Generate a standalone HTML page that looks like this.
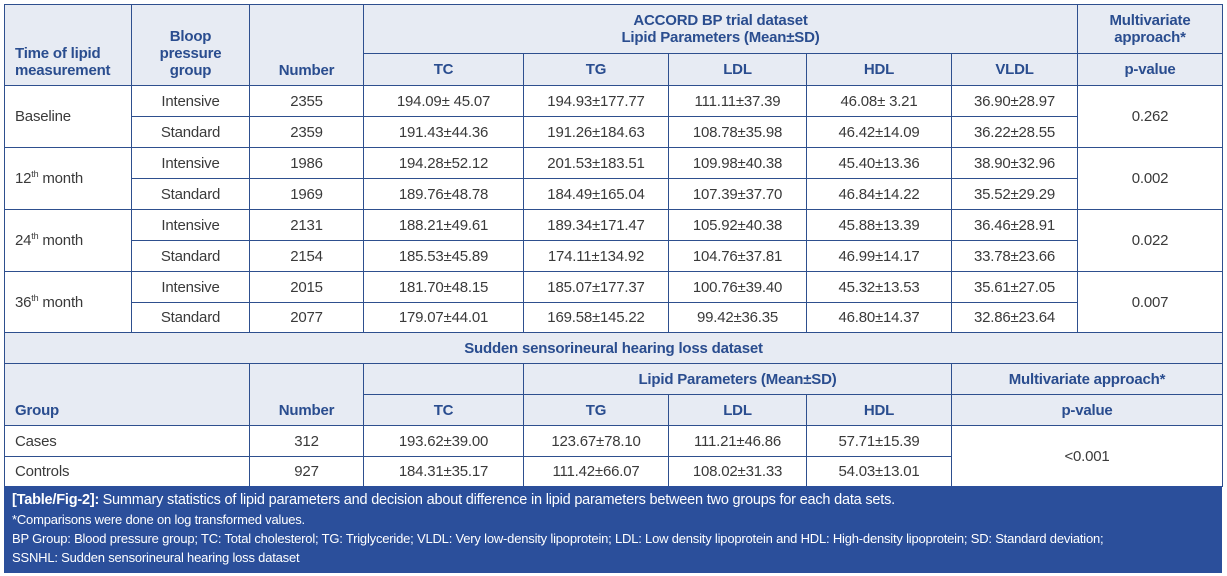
<!DOCTYPE html>
<html><head><meta charset="utf-8"><style>
body{margin:0;width:1227px;height:576px;background:#fff;position:relative;overflow:hidden;font-family:"Liberation Sans",Arial,sans-serif;}
.c{position:absolute;box-sizing:border-box;border:1px solid #2e4f8e;display:flex;align-items:center;justify-content:center;text-align:center;font-size:15px;color:#3a3a3a;line-height:17px;letter-spacing:-0.2px;}
.h{background:#e7ebf3;color:#2a4d8f;font-weight:bold;font-size:15px;}
.b{align-items:flex-end;padding-bottom:6px;}
.l{justify-content:flex-start;padding-left:10px;text-align:left;}
sup{font-size:9px;vertical-align:6px;line-height:0;}
.cap{position:absolute;left:4px;top:486px;width:1218px;height:87px;background:#2b4f9b;color:#fff;font-size:13px;padding:4px 8px;box-sizing:border-box;line-height:19px;letter-spacing:-0.2px;}
.cap b{font-size:14.5px;}
</style></head><body>
<div class="c h b l" style="left:4px;top:4px;width:128px;height:82px">Time of lipid<br>measurement</div>
<div class="c h b" style="left:131px;top:4px;width:119px;height:82px">Bloop<br>pressure<br>group</div>
<div class="c h b" style="left:249px;top:4px;width:115px;height:82px">Number</div>
<div class="c h" style="left:363px;top:4px;width:715px;height:50px">ACCORD BP trial dataset<br>Lipid Parameters (Mean±SD)</div>
<div class="c h" style="left:1077px;top:4px;width:146px;height:50px">Multivariate<br>approach*</div>
<div class="c h" style="left:363px;top:53px;width:161px;height:33px">TC</div>
<div class="c h" style="left:523px;top:53px;width:146px;height:33px">TG</div>
<div class="c h" style="left:668px;top:53px;width:139px;height:33px">LDL</div>
<div class="c h" style="left:806px;top:53px;width:146px;height:33px">HDL</div>
<div class="c h" style="left:951px;top:53px;width:127px;height:33px">VLDL</div>
<div class="c h" style="left:1077px;top:53px;width:146px;height:33px">p-value</div>

<div class="c l" style="left:4px;top:85px;width:128px;height:63px">Baseline</div>
<div class="c" style="left:1077px;top:85px;width:146px;height:63px">0.262</div>
<div class="c l" style="left:4px;top:147px;width:128px;height:63px"><span>12<sup>th</sup> month</span></div>
<div class="c" style="left:1077px;top:147px;width:146px;height:63px">0.002</div>
<div class="c l" style="left:4px;top:209px;width:128px;height:63px"><span>24<sup>th</sup> month</span></div>
<div class="c" style="left:1077px;top:209px;width:146px;height:63px">0.022</div>
<div class="c l" style="left:4px;top:271px;width:128px;height:62px"><span>36<sup>th</sup> month</span></div>
<div class="c" style="left:1077px;top:271px;width:146px;height:62px">0.007</div>

<div class="c" style="left:131px;top:85px;width:119px;height:32px">Intensive</div><div class="c" style="left:249px;top:85px;width:115px;height:32px">2355</div><div class="c" style="left:363px;top:85px;width:161px;height:32px">194.09± 45.07</div><div class="c" style="left:523px;top:85px;width:146px;height:32px">194.93±177.77</div><div class="c" style="left:668px;top:85px;width:139px;height:32px">111.11±37.39</div><div class="c" style="left:806px;top:85px;width:146px;height:32px">46.08± 3.21</div><div class="c" style="left:951px;top:85px;width:127px;height:32px">36.90±28.97</div>
<div class="c" style="left:131px;top:116px;width:119px;height:32px">Standard</div><div class="c" style="left:249px;top:116px;width:115px;height:32px">2359</div><div class="c" style="left:363px;top:116px;width:161px;height:32px">191.43±44.36</div><div class="c" style="left:523px;top:116px;width:146px;height:32px">191.26±184.63</div><div class="c" style="left:668px;top:116px;width:139px;height:32px">108.78±35.98</div><div class="c" style="left:806px;top:116px;width:146px;height:32px">46.42±14.09</div><div class="c" style="left:951px;top:116px;width:127px;height:32px">36.22±28.55</div>
<div class="c" style="left:131px;top:147px;width:119px;height:32px">Intensive</div><div class="c" style="left:249px;top:147px;width:115px;height:32px">1986</div><div class="c" style="left:363px;top:147px;width:161px;height:32px">194.28±52.12</div><div class="c" style="left:523px;top:147px;width:146px;height:32px">201.53±183.51</div><div class="c" style="left:668px;top:147px;width:139px;height:32px">109.98±40.38</div><div class="c" style="left:806px;top:147px;width:146px;height:32px">45.40±13.36</div><div class="c" style="left:951px;top:147px;width:127px;height:32px">38.90±32.96</div>
<div class="c" style="left:131px;top:178px;width:119px;height:32px">Standard</div><div class="c" style="left:249px;top:178px;width:115px;height:32px">1969</div><div class="c" style="left:363px;top:178px;width:161px;height:32px">189.76±48.78</div><div class="c" style="left:523px;top:178px;width:146px;height:32px">184.49±165.04</div><div class="c" style="left:668px;top:178px;width:139px;height:32px">107.39±37.70</div><div class="c" style="left:806px;top:178px;width:146px;height:32px">46.84±14.22</div><div class="c" style="left:951px;top:178px;width:127px;height:32px">35.52±29.29</div>
<div class="c" style="left:131px;top:209px;width:119px;height:32px">Intensive</div><div class="c" style="left:249px;top:209px;width:115px;height:32px">2131</div><div class="c" style="left:363px;top:209px;width:161px;height:32px">188.21±49.61</div><div class="c" style="left:523px;top:209px;width:146px;height:32px">189.34±171.47</div><div class="c" style="left:668px;top:209px;width:139px;height:32px">105.92±40.38</div><div class="c" style="left:806px;top:209px;width:146px;height:32px">45.88±13.39</div><div class="c" style="left:951px;top:209px;width:127px;height:32px">36.46±28.91</div>
<div class="c" style="left:131px;top:240px;width:119px;height:32px">Standard</div><div class="c" style="left:249px;top:240px;width:115px;height:32px">2154</div><div class="c" style="left:363px;top:240px;width:161px;height:32px">185.53±45.89</div><div class="c" style="left:523px;top:240px;width:146px;height:32px">174.11±134.92</div><div class="c" style="left:668px;top:240px;width:139px;height:32px">104.76±37.81</div><div class="c" style="left:806px;top:240px;width:146px;height:32px">46.99±14.17</div><div class="c" style="left:951px;top:240px;width:127px;height:32px">33.78±23.66</div>
<div class="c" style="left:131px;top:271px;width:119px;height:32px">Intensive</div><div class="c" style="left:249px;top:271px;width:115px;height:32px">2015</div><div class="c" style="left:363px;top:271px;width:161px;height:32px">181.70±48.15</div><div class="c" style="left:523px;top:271px;width:146px;height:32px">185.07±177.37</div><div class="c" style="left:668px;top:271px;width:139px;height:32px">100.76±39.40</div><div class="c" style="left:806px;top:271px;width:146px;height:32px">45.32±13.53</div><div class="c" style="left:951px;top:271px;width:127px;height:32px">35.61±27.05</div>
<div class="c" style="left:131px;top:302px;width:119px;height:31px">Standard</div><div class="c" style="left:249px;top:302px;width:115px;height:31px">2077</div><div class="c" style="left:363px;top:302px;width:161px;height:31px">179.07±44.01</div><div class="c" style="left:523px;top:302px;width:146px;height:31px">169.58±145.22</div><div class="c" style="left:668px;top:302px;width:139px;height:31px">99.42±36.35</div><div class="c" style="left:806px;top:302px;width:146px;height:31px">46.80±14.37</div><div class="c" style="left:951px;top:302px;width:127px;height:31px">32.86±23.64</div>

<div class="c h" style="left:4px;top:332px;width:1219px;height:32px">Sudden sensorineural hearing loss dataset</div>
<div class="c h b l" style="left:4px;top:363px;width:246px;height:63px">Group</div>
<div class="c h b" style="left:249px;top:363px;width:115px;height:63px">Number</div>
<div class="c h" style="left:363px;top:363px;width:161px;height:32px"></div>
<div class="c h" style="left:523px;top:363px;width:429px;height:32px">Lipid Parameters (Mean±SD)</div>
<div class="c h" style="left:951px;top:363px;width:272px;height:32px">Multivariate approach*</div>
<div class="c h" style="left:363px;top:394px;width:161px;height:32px">TC</div>
<div class="c h" style="left:523px;top:394px;width:146px;height:32px">TG</div>
<div class="c h" style="left:668px;top:394px;width:139px;height:32px">LDL</div>
<div class="c h" style="left:806px;top:394px;width:146px;height:32px">HDL</div>
<div class="c h" style="left:951px;top:394px;width:272px;height:32px">p-value</div>
<div class="c l" style="left:4px;top:425px;width:246px;height:32px">Cases</div><div class="c" style="left:249px;top:425px;width:115px;height:32px">312</div><div class="c" style="left:363px;top:425px;width:161px;height:32px">193.62±39.00</div><div class="c" style="left:523px;top:425px;width:146px;height:32px">123.67±78.10</div><div class="c" style="left:668px;top:425px;width:139px;height:32px">111.21±46.86</div><div class="c" style="left:806px;top:425px;width:146px;height:32px">57.71±15.39</div>
<div class="c l" style="left:4px;top:456px;width:246px;height:31px">Controls</div><div class="c" style="left:249px;top:456px;width:115px;height:31px">927</div><div class="c" style="left:363px;top:456px;width:161px;height:31px">184.31±35.17</div><div class="c" style="left:523px;top:456px;width:146px;height:31px">111.42±66.07</div><div class="c" style="left:668px;top:456px;width:139px;height:31px">108.02±31.33</div><div class="c" style="left:806px;top:456px;width:146px;height:31px">54.03±13.01</div>
<div class="c" style="left:951px;top:425px;width:272px;height:62px">&lt;0.001</div>

<div class="cap"><b>[Table/Fig-2]:</b> <span style="font-size:14.5px">Summary statistics of lipid parameters and decision about difference in lipid parameters between two groups for each data sets.</span><br>*Comparisons were done on log transformed values.<br>BP Group: Blood pressure group; TC: Total cholesterol; TG: Triglyceride; VLDL: Very low-density lipoprotein; LDL: Low density lipoprotein and HDL: High-density lipoprotein; SD: Standard deviation;<br>SSNHL: Sudden sensorineural hearing loss dataset</div>
</body></html>
